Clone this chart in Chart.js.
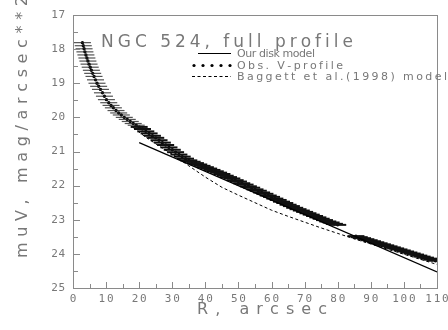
<!DOCTYPE html>
<html>
<head>
<meta charset="utf-8">
<script src="https://cdn.jsdelivr.net/npm/chart.js@4/dist/chart.umd.min.js"></script>
<style>
  html, body { margin: 0; padding: 0; background: #fff; }
  #wrap { width: 448px; height: 330px; }
</style>
</head>
<body>
<div id="wrap"><canvas id="chart" width="448" height="330"></canvas></div>
<script>
const obsR = [
  2.85, 3.1, 3.35, 3.6, 3.9, 4.2, 4.5, 4.85, 5.2, 5.55, 5.95, 6.35, 6.8, 7.25,
  7.75, 8.3, 8.9, 9.5, 10.1, 10.8, 11.5, 12.2, 13.0, 13.8, 14.6, 15.5, 16.4,
  17.3, 18.2, 19.1,
  20, 21, 22, 23, 24, 25, 26, 27, 28, 29, 30, 31, 32, 33, 34, 35, 36, 37, 38,
  39, 40, 41, 42, 43, 44, 45, 46, 47, 48, 49, 50, 51, 52, 53, 54, 55, 56, 57,
  58, 59, 60, 61, 62, 63, 64, 65, 66, 67, 68, 69, 70, 71, 72, 73, 74, 75, 76,
  77, 78, 79, 80,
  85.5, 86.5, 87.5, 88.5, 89.5, 90.5, 91.5, 92.5, 93.5, 94.5, 95.5, 96.5,
  97.5, 98.5, 99.5, 100.5, 101.5, 102.5, 103.5, 104.5, 105.5, 106.5, 107.5,
  108.5, 109.5
];
const obsMu = [
  17.81, 17.90, 17.99, 18.08, 18.17, 18.26, 18.35, 18.44, 18.53, 18.62, 18.71,
  18.80, 18.90, 19.00, 19.09, 19.18, 19.28, 19.38, 19.48, 19.57, 19.65, 19.72,
  19.80, 19.87, 19.93, 20.00, 20.06, 20.12, 20.18, 20.23,
  20.28, 20.34, 20.41, 20.47, 20.54, 20.60, 20.67, 20.74, 20.81, 20.88, 20.95,
  21.02, 21.09, 21.15, 21.21, 21.26, 21.30, 21.34, 21.38, 21.42, 21.46, 21.50,
  21.54, 21.58, 21.62, 21.66, 21.71, 21.75, 21.79, 21.84, 21.88, 21.93, 21.97,
  22.02, 22.06, 22.11, 22.15, 22.20, 22.24, 22.29, 22.33, 22.38, 22.42, 22.47,
  22.51, 22.56, 22.60, 22.65, 22.69, 22.73, 22.77, 22.81, 22.85, 22.89, 22.93,
  22.97, 23.01, 23.05, 23.08, 23.12, 23.15,
  23.48, 23.51, 23.54, 23.57, 23.60, 23.63, 23.66, 23.69, 23.72, 23.75, 23.78,
  23.81, 23.84, 23.87, 23.90, 23.93, 23.96, 23.99, 24.02, 24.05, 24.08, 24.11,
  24.14, 24.17, 24.20
];

// Our disk model (straight line)
const diskR = [20, 110];
const diskMu = [20.74, 24.53];

// Baggett et al. (1998) model
const bagR = [18.2, 22, 26, 30, 35, 40, 45, 50, 55, 60, 65, 70, 75, 80, 85, 90, 95, 100, 105, 110];
const bagMu = [20.30, 20.58, 20.84, 21.08, 21.42, 21.75, 22.05, 22.28, 22.50, 22.72, 22.90,
  23.07, 23.24, 23.40, 23.56, 23.71, 23.86, 24.01, 24.16, 24.31];

// Axis ranges / text
const xMin = 0, xMax = 110, xStep = 10;
const yMin = 17, yMax = 25, yStep = 1;
const titleText = "NGC 524, full profile";
const legendLabels = ["Our disk model", "Obs. V-profile", "Baggett et al.(1998) model"];
const xTitle = "R, arcsec";
const yTitle = "muV, mag/arcsec**2";

const textColor = "#787878";
const frameColor = "#8a8a8a";

function pts(xs, ys) {
  return xs.map((x, i) => ({ x: x, y: ys[i] }));
}

// Draw text with stretched letter spacing to a given width
function spacedText(ctx, text, x, y, width) {
  const widths = [...text].map((c) => ctx.measureText(c).width);
  const natural = widths.reduce((a, b) => a + b, 0);
  const extra = text.length > 1 ? (width - natural) / (text.length - 1) : 0;
  let cx = x;
  [...text].forEach((c, i) => {
    ctx.fillText(c, cx, y);
    cx += widths[i] + extra;
  });
}

function spacedWidth(ctx, text, extra) {
  return [...text].reduce((a, c) => a + ctx.measureText(c).width, 0) + extra * (text.length - 1);
}

const decorPlugin = {
  id: "decor",
  afterDraw(chart) {
    const ctx = chart.ctx;
    const area = chart.chartArea;
    const xs = chart.scales.x;
    const ys = chart.scales.y;
    ctx.save();

    // frame
    ctx.strokeStyle = frameColor;
    ctx.lineWidth = 1;
    ctx.strokeRect(Math.round(area.left) + 0.5, Math.round(area.top) + 0.5,
      Math.round(area.right - area.left), Math.round(area.bottom - area.top));

    // inward ticks
    ctx.beginPath();
    const xt = xs.ticks.map((t) => t.value);
    xt.forEach((v, i) => {
      const px = Math.round(xs.getPixelForValue(v)) + 0.5;
      ctx.moveTo(px, area.bottom);
      ctx.lineTo(px, area.bottom - 6);
      if (i < xt.length - 1) {
        const mx = Math.round(xs.getPixelForValue((v + xt[i + 1]) / 2)) + 0.5;
        ctx.moveTo(mx, area.bottom);
        ctx.lineTo(mx, area.bottom - 4);
      }
    });
    const yt = ys.ticks.map((t) => t.value);
    yt.forEach((v, i) => {
      const py = Math.round(ys.getPixelForValue(v)) + 0.5;
      ctx.moveTo(area.left, py);
      ctx.lineTo(area.left + 7, py);
      if (i < yt.length - 1) {
        const my = Math.round(ys.getPixelForValue((v + yt[i + 1]) / 2)) + 0.5;
        ctx.moveTo(area.left, my);
        ctx.lineTo(area.left + 5, my);
      }
    });
    ctx.stroke();

    // tick labels
    ctx.fillStyle = textColor;
    ctx.font = "11px 'DejaVu Sans Mono'";
    ctx.textBaseline = "alphabetic";
    xs.ticks.forEach((t) => {
      const label = String(t.value);
      const w = spacedWidth(ctx, label, 1.8);
      spacedText(ctx, label, xs.getPixelForValue(t.value) - w / 2, 302, w);
    });
    ctx.textBaseline = "middle";
    ys.ticks.forEach((t) => {
      const label = String(t.value);
      const w = spacedWidth(ctx, label, 0.4);
      spacedText(ctx, label, area.left - 8 - w, ys.getPixelForValue(t.value), w);
    });

    // title
    ctx.textBaseline = "alphabetic";
    ctx.font = "17px 'DejaVu Sans'";
    spacedText(ctx, titleText, 101, 47, 252);

    // legend
    ctx.font = "11px 'DejaVu Sans'";
    const rows = [57, 69, 80];
    const lw = [78, 106, 210];
    legendLabels.forEach((l, i) => spacedText(ctx, l, 237, rows[i], lw[i]));

    ctx.strokeStyle = "#000";
    ctx.lineWidth = 1.2;
    ctx.beginPath();
    ctx.moveTo(198, 53.5);
    ctx.lineTo(231, 53.5);
    ctx.stroke();
    ctx.fillStyle = "#000";
    for (let k = 0; k < 5; k++) {
      ctx.beginPath();
      ctx.arc(194 + k * 9, 65.5, 1.6, 0, Math.PI * 2);
      ctx.fill();
    }
    ctx.setLineDash([3, 2.5]);
    ctx.lineWidth = 1;
    ctx.beginPath();
    ctx.moveTo(192, 76.5);
    ctx.lineTo(231, 76.5);
    ctx.stroke();
    ctx.setLineDash([]);

    // axis titles
    ctx.fillStyle = textColor;
    ctx.font = "16px 'DejaVu Sans'";
    spacedText(ctx, xTitle, 197, 314, 130);

    ctx.translate(27, 258);
    ctx.rotate(-Math.PI / 2);
    ctx.font = "16px 'DejaVu Sans'";
    spacedText(ctx, yTitle, 0, 0, 262);

    ctx.restore();
  },
};

new Chart(document.getElementById("chart"), {
  type: "scatter",
  data: {
    datasets: [
      {
        label: "Baggett et al.(1998) model",
        data: pts(bagR, bagMu),
        showLine: true,
        borderColor: "#000",
        borderWidth: 1,
        borderDash: [3, 2.5],
        pointRadius: 0,
      },
      {
        label: "Our disk model",
        data: pts(diskR, diskMu),
        showLine: true,
        borderColor: "#000",
        borderWidth: 1.2,
        pointRadius: 0,
      },
      {
        label: "Obs. V-profile bars",
        data: pts(obsR, obsMu),
        showLine: false,
        pointStyle: "line",
        pointRadius: 8.5,
        borderColor: (c) => (c.raw && c.raw.x < 20 ? "rgba(40,40,40,0.8)" : "#111"),
        borderWidth: (c) => (c.raw && c.raw.x < 20 ? 1.2 : 2),
      },
      {
        label: "Obs. V-profile",
        data: pts(obsR, obsMu),
        showLine: false,
        pointStyle: "circle",
        pointRadius: 1.7,
        backgroundColor: "#000",
        borderColor: "#000",
        borderWidth: 0,
      },
    ],
  },
  options: {
    responsive: false,
    animation: false,
    events: [],
    layout: { padding: { left: 73, right: 11, top: 15, bottom: 42 } },
    plugins: { legend: { display: false }, tooltip: { enabled: false } },
    scales: {
      x: {
        type: "linear",
        min: xMin,
        max: xMax,
        ticks: { stepSize: xStep, display: false },
        grid: { display: false, drawTicks: false },
        border: { display: false },
      },
      y: {
        type: "linear",
        min: yMin,
        max: yMax,
        reverse: true,
        ticks: { stepSize: yStep, display: false },
        grid: { display: false, drawTicks: false },
        border: { display: false },
      },
    },
  },
  plugins: [decorPlugin],
});
</script>
</body>
</html>
